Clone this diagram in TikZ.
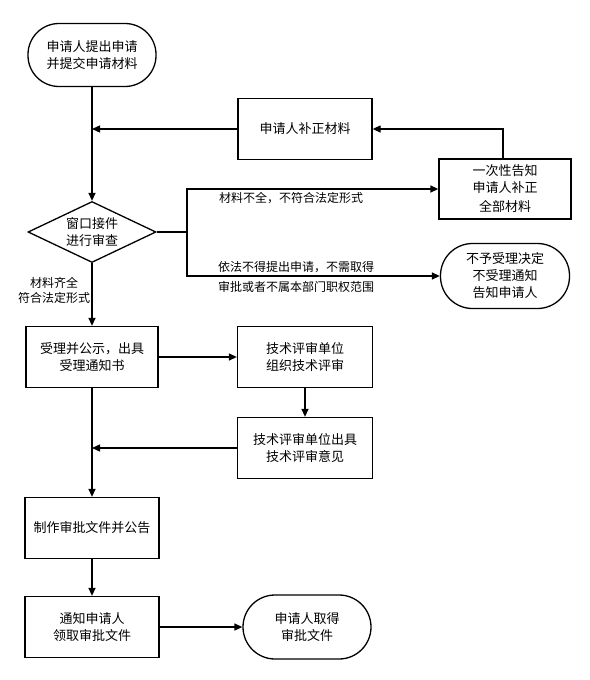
\documentclass[tikz,border=0pt]{standalone}
\usepackage{fontspec}
\setmainfont{Noto Sans CJK SC}
\usetikzlibrary{arrows.meta,shapes.geometric}
\begin{document}
\begin{tikzpicture}[x=1pt,y=-1pt,
  every node/.style={font=\fontsize{13}{17}\selectfont, align=center, inner sep=0pt},
  box/.style={draw, line width=1.3pt, rectangle, minimum width=134pt, minimum height=61pt},
  term/.style={draw, line width=1.3pt, rectangle, rounded corners=31pt, minimum width=128pt, minimum height=63pt},
  dec/.style={draw, line width=1.3pt, diamond, aspect=2.1, minimum width=128pt, minimum height=61pt},
  lbl/.style={font=\fontsize{12}{20}\selectfont},
  conn/.style={line width=1.3pt},
  arr/.style={line width=1.3pt, -{Triangle[length=8pt,width=7pt]}}
]
\useasboundingbox (0,0) rectangle (589,680);
\node[term] (start) at (92,55) {申请人提出申请\\并提交申请材料};
\node[box] (buzheng) at (305,129) {申请人补正材料};
\node[dec] (dia) at (92,232) {\fontsize{13}{15}\selectfont 窗口接件\\进行审查};
\node[box, minimum width=132pt, minimum height=60pt] (yici) at (505,189) {一次性告知\\申请人补正\\[2pt]全部材料};
\node[term, minimum width=129pt, minimum height=65pt, rounded corners=32pt] (buyu) at (505,276) {不予受理决定\\不受理通知\\告知申请人};
\node[box, minimum width=132pt] (shouli) at (92,357) {\fontsize{13}{21}\selectfont 受理并公示，出具\\受理通知书};
\node[box, minimum width=135pt] (jishu1) at (305,357) {\fontsize{13}{16}\selectfont 技术评审单位\\组织技术评审};
\node[box, minimum width=135pt] (jishu2) at (305,448) {\fontsize{13}{18}\selectfont 技术评审单位出具\\技术评审意见};
\node[box] (zhizuo) at (92,528) {制作审批文件并公告};
\node[box] (tongzhi) at (92,627) {\fontsize{13}{18}\selectfont 通知申请人\\领取审批文件};
\node[term, minimum width=128pt, minimum height=64pt, rounded corners=32pt] (end) at (307,627) {\fontsize{13}{16}\selectfont 申请人取得\\审批文件};

\coordinate (m1) at (92,129);
\coordinate (j) at (187,232);
\coordinate (m2) at (92,448);

\draw[arr] (start) -- (dia);
\draw[arr] (buzheng) -- (m1);
\draw[conn] (dia.east) -- (j);
\draw[arr] (j) |- (yici.west);
\draw[arr] (j) |- (buyu.west);
\draw[arr] ([xshift=-2pt]yici.north) |- (buzheng.east);
\draw[arr] (dia) -- (shouli);
\draw[arr] (shouli) -- (jishu1);
\draw[arr] (jishu1) -- (jishu2);
\draw[arr] (jishu2) -- (m2);
\draw[arr] (shouli) -- (zhizuo);
\draw[arr] (zhizuo) -- (tongzhi);
\draw[arr] (tongzhi) -- (end);

\node[lbl] (l1) at (291,198) {材料不全，不符合法定形式};
\node[lbl] (l2) at (296,277) {依法不得提出申请，不需取得\\审批或者不属本部门职权范围};
\node[lbl, font=\fontsize{12}{15}\selectfont] (l3) at (54,290) {材料齐全\\符合法定形式};
\end{tikzpicture}
\end{document}
